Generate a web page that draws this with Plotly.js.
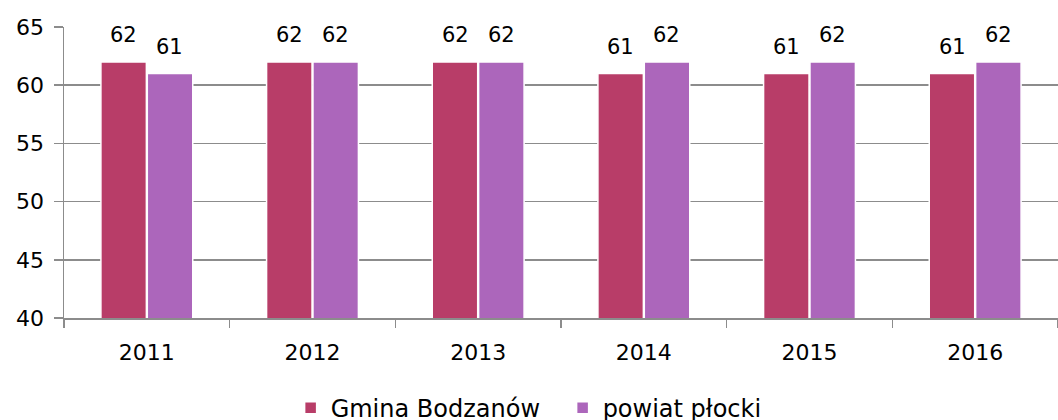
<!DOCTYPE html>
<html><head><meta charset="utf-8">
<script src="https://cdn.plot.ly/plotly-3.0.1.min.js"></script>
<style>html,body{margin:0;padding:0;background:#fff}#c{width:1058px;height:420px}</style>
</head><body><div id="c"></div>
<script>
const years = ['2011','2012','2013','2014','2015','2016'];
const gmina = [62, 62, 62, 61, 61, 61];
const powiat = [61, 62, 62, 62, 62, 62];
const seriesNames = ['Gmina Bodzanów', 'powiat płocki'];
const colors = ['#B83D68', '#AC66BB'];
const font = '"DejaVu Sans", sans-serif';

const mk = (y, i) => ({
  type: 'bar', x: years.slice(), y: y, name: seriesNames[i],
  marker: {color: colors[i], line: {color: '#ffffff', width: 1.5}}
});

const annotations = [];
[gmina, powiat].forEach((arr, i) => {
  arr.forEach((v, j) => {
    annotations.push({
      x: j, y: v, xref: 'x', yref: 'y', text: String(v), showarrow: false,
      xanchor: 'center', yanchor: 'bottom', xshift: i === 0 ? -23 : 23, yshift: 13,
      font: {family: font, size: 21, color: '#000'}
    });
  });
});

Plotly.newPlot('c', [mk(gmina, 0), mk(powiat, 1)], {
  width: 1058, height: 420,
  margin: {l: 64, r: 0, t: 27, b: 102, autoexpand: false},
  paper_bgcolor: '#fff', plot_bgcolor: '#fff',
  barmode: 'group', bargap: 0.44, bargroupgap: 0.02,
  font: {family: font, size: 22, color: '#000'},
  annotations: annotations,
  xaxis: {
    type: 'category', showgrid: false, showline: true, linecolor: '#8c8c8c', linewidth: 1.5,
    ticks: 'outside', tickson: 'boundaries', ticklen: 8, tickcolor: '#8c8c8c', tickwidth: 1.5,
    tickfont: {family: font, size: 22, color: '#000'}, ticklabelstandoff: 14,
    range: [-0.5, 5.5], tickangle: 0
  },
  yaxis: {
    range: [40, 65], dtick: 5, showgrid: true, gridcolor: '#8c8c8c', gridwidth: 1.5,
    showline: true, linecolor: '#8c8c8c', linewidth: 1.5,
    ticks: 'outside', ticklen: 9, tickcolor: '#8c8c8c', tickwidth: 1.5,
    tickfont: {family: font, size: 22, color: '#000'}, zeroline: false, ticklabelstandoff: 5
  },
  showlegend: true,
  legend: {
    orientation: 'h', x: 0.228, xanchor: 'left', y: -0.31, yanchor: 'middle',
    font: {family: font, size: 24, color: '#000'}, itemwidth: 30, traceorder: 'normal',
    entrywidth: 227, entrywidthmode: 'pixels'
  }
}, {staticPlot: true});
</script></body></html>
